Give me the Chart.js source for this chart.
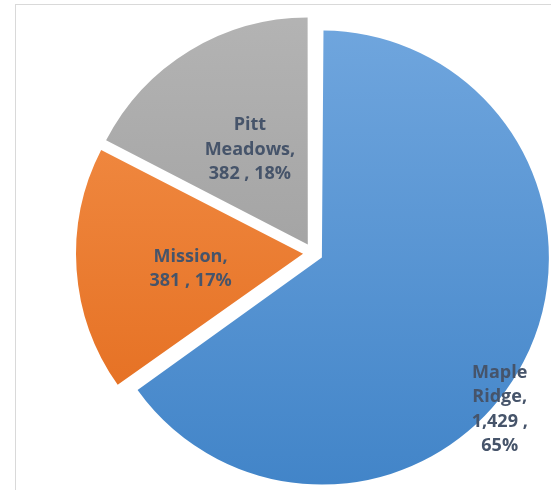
<!DOCTYPE html>
<html>
<head>
<meta charset="utf-8">
<script src="https://cdn.jsdelivr.net/npm/chart.js@4"></script>
<style>
  html, body { margin: 0; padding: 0; background: #fff; }
  #wrap { position: relative; width: 551px; height: 490px; overflow: hidden; }
  #frame { position: absolute; left: 15px; top: 4px; width: 600px; height: 600px; border: 1px solid #d9d9d9; }
  canvas { position: absolute; left: 0; top: 0; }
</style>
</head>
<body>
<div id="wrap">
  <div id="frame"></div>
  <canvas id="pie" width="551" height="490"></canvas>
</div>
<script>
// === Data ===
const categories = ["Maple Ridge", "Mission", "Pitt Meadows"];
const values = [1429, 381, 382];

// === Style ===
const gradTop = ["#70a6de", "#f4924c", "#b4b4b4"];
const gradBottom = ["#4184c8", "#e2691a", "#959595"];
const wrapWidth = [66, 95, 95];
// label anchor: fraction along the arc, fraction of radius
const labelAt = [[0.556, 1.03], [0.44, 0.5], [0.5, 0.49]];
const EXPLODE = 40; // chart.js draws offset / 4 px

// Excel-style percentages that add up to 100
function roundedPercents(vals) {
  const total = vals.reduce((a, b) => a + b, 0);
  const raw = vals.map(v => v / total * 100);
  const out = raw.map(Math.floor);
  let left = 100 - out.reduce((a, b) => a + b, 0);
  raw.map((r, i) => [r - Math.floor(r), i]).sort((a, b) => b[0] - a[0])
    .forEach(([, i]) => { if (left > 0) { out[i]++; left--; } });
  return out;
}
const pcts = roundedPercents(values);
const fmtNum = n => n.toLocaleString("en-US");

function wrapText(ctx, text, maxW) {
  const words = text.split(" ");
  const lines = [];
  let cur = "";
  words.forEach(w => {
    const test = cur ? cur + " " + w : w;
    if (cur && ctx.measureText(test).width > maxW) { lines.push(cur); cur = w; }
    else cur = test;
  });
  if (cur) lines.push(cur);
  return lines;
}

// chart.js grows exploded arcs by offset * (1 - sin(circumference)); undo that so
// every slice keeps the same radius, like Excel
const growth = arc => ((arc.options.offset || 0) / 4) * (1 - Math.sin(Math.min(Math.PI, arc.circumference || 0)));
const evenRadius = {
  id: "evenRadius",
  afterDatasetUpdate(chart, args) {
    args.meta.data.forEach(arc => { arc.outerRadius -= growth(arc); });
  }
};

const sliceLabels = {
  id: "sliceLabels",
  afterDatasetsDraw(chart) {
    const ctx = chart.ctx;
    const meta = chart.getDatasetMeta(0);
    ctx.save();
    ctx.font = "bold 18px 'Open Sans', sans-serif";
    ctx.fillStyle = "#46546a";
    ctx.textAlign = "center";
    ctx.textBaseline = "middle";
    meta.data.forEach((arc, i) => {
      const p = arc.getProps(["x", "y", "startAngle", "endAngle", "outerRadius"], true);
      const off = (arc.options.offset || 0) / 4;
      const mid = (p.startAngle + p.endAngle) / 2;
      const vx = p.x + Math.cos(mid) * off;
      const vy = p.y + Math.sin(mid) * off;
      const a = p.startAngle + (p.endAngle - p.startAngle) * labelAt[i][0];
      const r = (p.outerRadius + growth(arc)) * labelAt[i][1];
      const cx = vx + Math.cos(a) * r;
      const cy = vy + Math.sin(a) * r;
      const text = `${categories[i]}, ${fmtNum(values[i])} , ${pcts[i]}%`;
      const lines = wrapText(ctx, text, wrapWidth[i]);
      const lh = 24.5;
      lines.forEach((ln, k) => {
        ctx.fillText(ln, cx, cy + (k - (lines.length - 1) / 2) * lh);
      });
    });
    ctx.restore();
  }
};

function sliceGradient(context) {
  const chart = context.chart;
  const area = chart.chartArea;
  if (!area) return gradBottom[context.dataIndex];
  const g = chart.ctx.createLinearGradient(0, 15, 0, 490);
  g.addColorStop(0, gradTop[context.dataIndex]);
  g.addColorStop(1, gradBottom[context.dataIndex]);
  return g;
}

new Chart(document.getElementById("pie"), {
  type: "pie",
  data: {
    labels: categories,
    datasets: [{
      data: values,
      backgroundColor: sliceGradient,
      borderWidth: 0,
      offset: EXPLODE,
      radius: 227,
      clip: false
    }]
  },
  options: {
    responsive: false,
    animation: false,
    layout: { padding: { left: 75, top: 16, right: 0, bottom: 0 } },
    plugins: {
      legend: { display: false },
      tooltip: { enabled: false }
    }
  },
  plugins: [evenRadius, sliceLabels]
});
</script>
</body>
</html>
